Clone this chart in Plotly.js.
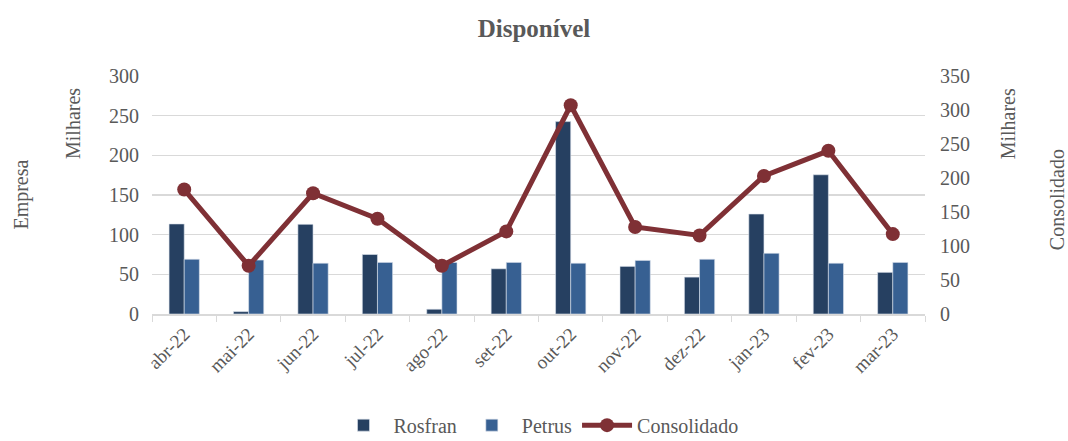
<!DOCTYPE html>
<html>
<head>
<meta charset="utf-8">
<script src="https://cdn.plot.ly/plotly-3.0.1.min.js"></script>
<style>
html,body{margin:0;padding:0;background:#fff;}
#chart{width:1068px;height:441px;}
</style>
</head>
<body>
<div id="chart"></div>
<script>
const months = ["abr-22","mai-22","jun-22","jul-22","ago-22","set-22","out-22","nov-22","dez-22","jan-23","fev-23","mar-23"];
const rosfran = [113.5, 3, 113, 75, 6, 57, 242.5, 60, 46.5, 126, 175.5, 52.5];
const petrus = [69, 68, 64, 65, 65, 65, 64, 67.5, 69, 76.5, 64, 65];
const consolidado = [183, 71, 177.5, 140, 71, 121.5, 307, 128, 115.5, 203, 240, 117.5];

const font = "Liberation Serif, Times New Roman, serif";
const grey = "#595959";

const traces = [
  {type:"bar", name:"Rosfran", x:months, y:rosfran, marker:{color:"#264061", line:{color:"#dce3ec", width:0.6}}},
  {type:"bar", name:"Petrus", x:months, y:petrus, marker:{color:"#376092", line:{color:"#dce3ec", width:0.6}}},
  {type:"scatter", mode:"lines+markers", name:"Consolidado", x:months, y:consolidado, yaxis:"y2",
   line:{color:"#7f3035", width:5}, marker:{color:"#7f3035", size:14}}
];

const layout = {
  width:1068, height:441,
  margin:{l:152, r:143, t:76, b:127, autoexpand:false},
  paper_bgcolor:"#fff", plot_bgcolor:"#fff",
  font:{family:font, color:grey, size:20},
  title:{text:"<b>Disponível</b>", x:0.5, xanchor:"center", y:0.935, yanchor:"middle", font:{family:font, size:25, color:grey}, automargin:false},
  barmode:"group", bargap:0.53, bargroupgap:0,
  showlegend:true,
  legend:{orientation:"h", x:0.5, xanchor:"center", y:-0.385, yanchor:"top", font:{family:font, size:20, color:grey}, traceorder:"normal", itemwidth:50},
  xaxis:{type:"category", range:[-0.5, 11.5], tickangle:-45, tickfont:{family:font, size:19, color:grey}, automargin:false,
    showline:true, linecolor:"#d9d9d9", linewidth:1.5, ticks:"outside", tickson:"boundaries",
    ticklen:6, tickcolor:"#d9d9d9", showgrid:false},
  yaxis:{range:[0,300], dtick:50, showgrid:true, gridcolor:"#d9d9d9", gridwidth:1.5, zeroline:false, automargin:false,
    tickfont:{family:font, size:20, color:grey}, ticks:"", ticklabelstandoff:12},
  yaxis2:{range:[0,350], dtick:50, overlaying:"y", side:"right", showgrid:false, zeroline:false, automargin:false,
    tickfont:{family:font, size:20, color:grey}, ticklabelstandoff:14},
  annotations:[
    {text:"Milhares", xref:"paper", yref:"paper", x:-0.103, y:0.80, xanchor:"center", yanchor:"middle", textangle:-90, showarrow:false, font:{family:font, size:20, color:grey}},
    {text:"Empresa", xref:"paper", yref:"paper", x:-0.17, y:0.50, xanchor:"center", yanchor:"middle", textangle:-90, showarrow:false, font:{family:font, size:20, color:grey}},
    {text:"Milhares", xref:"paper", yref:"paper", x:1.107, y:0.80, xanchor:"center", yanchor:"middle", textangle:-90, showarrow:false, font:{family:font, size:20, color:grey}},
    {text:"Consolidado", xref:"paper", yref:"paper", x:1.17, y:0.48, xanchor:"center", yanchor:"middle", textangle:-90, showarrow:false, font:{family:font, size:20, color:grey}}
  ]
};

Plotly.newPlot("chart", traces, layout, {displayModeBar:false, staticPlot:true});
</script>
</body>
</html>
